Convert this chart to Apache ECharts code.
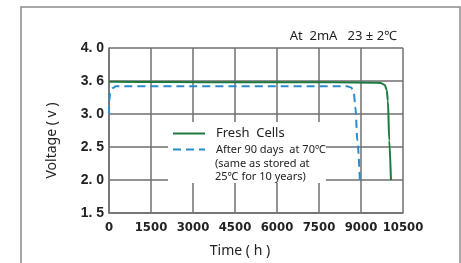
<!DOCTYPE html>
<html>
<head>
<meta charset="utf-8">
<script src="https://cdn.jsdelivr.net/npm/echarts@6/dist/echarts.min.js"></script>
<style>
  html, body { margin: 0; padding: 0; background: #fff; }
  #chart { width: 461px; height: 263px; }
</style>
</head>
<body>
<div id="chart"></div>
<script>
// discharge curves, [time h, voltage V]
const freshCells = [
  [0, 3.49], [2000, 3.485], [5000, 3.48], [8000, 3.48], [9500, 3.475], [9700, 3.47],
  [9850, 3.44], [9920, 3.36], [9960, 3.2], [10010, 2.6], [10070, 2.0]
]
const agedCells = [
  [0, 3.0], [10, 3.2], [40, 3.32], [120, 3.39], [250, 3.42], [8500, 3.42],
  [8650, 3.4], [8740, 3.33], [8800, 3.1], [8870, 2.6], [8960, 2.0]
]
const yTickLabels = ['1. 5', '2. 0', '2. 5', '3. 0', '3. 6', '4. 0']
const seriesNames = ['Fresh  Cells', 'After 90 days  at 70℃']
const agedNote = '(same as stored at\n25℃ for 10 years)'

const textFont = '"Noto Sans", sans-serif'
const gridColor = '#6f6f6f'

const chart = echarts.init(document.getElementById('chart'))
chart.setOption({
  backgroundColor: '#fff',
  animation: false,
  grid: { left: 109, right: 58, top: 48, bottom: 49 },
  title: {
    text: 'At  2mA   23 ± 2℃', right: 59, top: 25,
    textStyle: { fontFamily: textFont, fontSize: 13, fontWeight: 'normal', color: '#222' }
  },
  legend: {
    orient: 'vertical', left: 168, top: 122, padding: [5, 0, 28, 4],
    backgroundColor: '#fff', itemWidth: 32, itemHeight: 12, itemGap: 4,
    itemStyle: { opacity: 0 },
    data: [
      { name: seriesNames[0], textStyle: { fontSize: 13 } },
      { name: seriesNames[1], textStyle: { fontSize: 11 } }
    ],
    textStyle: { fontFamily: textFont, color: '#222', padding: [0, 0, 0, 6] }
  },
  xAxis: {
    type: 'value', min: 0, max: 10500, interval: 1500,
    name: 'Time ( h )', nameLocation: 'middle', nameGap: 31,
    nameTextStyle: { fontFamily: textFont, fontSize: 14, color: '#222', padding: [0, 32, 0, 0] },
    axisLine: { lineStyle: { color: gridColor, width: 1.5 } },
    axisTick: { show: false },
    axisLabel: {
      fontFamily: '"Liberation Sans Narrow", "DejaVu Sans Condensed", sans-serif', fontWeight: 'bold', fontSize: 13, color: '#222', margin: 8,
      formatter: (v) => String(v)
    },
    splitLine: { lineStyle: { color: gridColor, width: 1.5 } }
  },
  yAxis: {
    type: 'value', min: 1.5, max: 4, interval: 0.5,
    name: 'Voltage ( v )', nameLocation: 'middle', nameGap: 50,
    nameTextStyle: { fontFamily: textFont, fontSize: 14, color: '#222', padding: [0, 0, 0, -20] },
    axisLine: { show: true, lineStyle: { color: gridColor, width: 1.5 } },
    axisTick: { show: false },
    axisLabel: {
      fontFamily: '"Liberation Sans", sans-serif', fontWeight: 'bold', fontSize: 14, color: '#222', margin: 5,
      formatter: (v) => yTickLabels[Math.round((v - 1.5) / 0.5)]
    },
    splitLine: { lineStyle: { color: gridColor, width: 1.5 } }
  },
  graphic: [
    { type: 'rect', shape: { x: 21, y: 7, width: 439, height: 270 }, style: { fill: 'none', stroke: '#8a8a8a', lineWidth: 1.5 }, silent: true },
    { type: 'text', left: 215, top: 157, z: 100, style: { text: agedNote, fontFamily: textFont, fontSize: 11, lineHeight: 13, fill: '#222' } }
  ],
  series: [
    {
      name: seriesNames[0], type: 'line', data: freshCells, symbol: 'none', smooth: 0.3, smoothMonotone: 'x',
      lineStyle: { color: '#1c7a3c', width: 2 }, itemStyle: { color: '#1c7a3c' }
    },
    {
      name: seriesNames[1], type: 'line', data: agedCells, symbol: 'none', smooth: 0.3, smoothMonotone: 'x',
      lineStyle: { color: '#2b8ccc', width: 2, type: [8, 5] }, itemStyle: { color: '#2b8ccc' }
    }
  ]
})
</script>
</body>
</html>
